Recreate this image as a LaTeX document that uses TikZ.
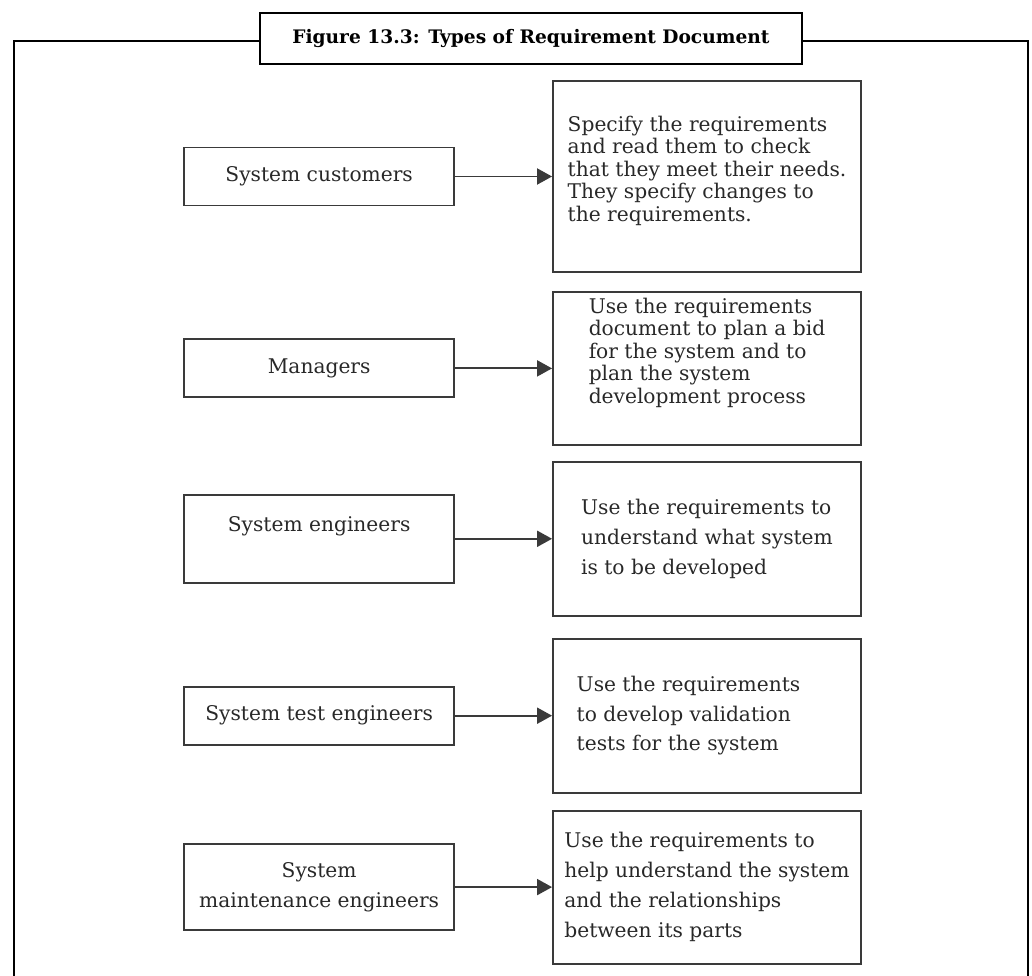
\documentclass[tikz,border=0pt]{standalone}
\usepackage{fontspec}
\setmainfont{DejaVu Serif}
\usetikzlibrary{positioning,arrows.meta}
\definecolor{boxgray}{RGB}{58,58,58}
\definecolor{textgray}{RGB}{40,40,40}

\begin{document}
\begin{tikzpicture}[
    x=0.02cm, y=-0.02cm,
    node distance=0.4cm,
    box/.style={rectangle, draw=boxgray, line width=1.1pt, text=textgray, align=center, minimum width=5.4cm, minimum height=1.16cm, font=\fontsize{11.5}{17}\selectfont},
    usage/.style={box, align=left, minimum width=6.16cm, inner sep=2pt},
    tight/.style={font=\fontsize{11.5}{12.8}\selectfont},
    link/.style={-{Triangle[length=0.3cm,width=0.32cm]}, line width=1.1pt, boxgray}
]
    \useasboundingbox (0,0) rectangle (1032,976);

    % Frame
    \draw[line width=1.3pt] (14,980) -- (14,41) -- (1028,41) -- (1028,980);
    \node[draw, line width=1.2pt, fill=white, minimum width=10.84cm, minimum height=1.02cm, font=\fontsize{10.6}{12}\selectfont\bfseries] (title) at (531,38.5) {Figure 13.3: Types of Requirement Document};

    % What each reader does
    \node[usage, tight, minimum height=3.82cm] (specify) at (707,176.5) {Specify the requirements\\ and read them to check\\ that they meet their needs.\\ They specify changes to\\ the requirements.\\[-3.7pt]\mbox{}};
    \node[usage, tight, minimum height=3.06cm, below=0.36cm of specify] (plan) {Use the requirements\\ document to plan a bid\\ for the system and to\\ plan the system\\ development process\\[7.7pt]\mbox{}};
    \node[usage, minimum height=3.08cm, below=0.30cm of plan] (understand) {Use the requirements to\\ understand what system\\ is to be developed};
    \node[usage, minimum height=3.08cm, below=0.42cm of understand] (validate) {Use the requirements\hspace*{0.74cm}\\ to develop validation\\ tests for the system};
    \node[usage, minimum height=3.06cm, below=0.32cm of validate] (maintain) {Use the requirements to\\ help understand the system\\ and the relationships\\ between its parts};

    % Readers
    \node[box, left=1.94cm of specify] (customers) {System customers};
    \node[box, left=1.94cm of plan] (managers) {Managers};
    \node[box, minimum height=1.76cm, left=1.94cm of understand] (sysengs) {System engineers\\ \mbox{}};
    \node[box, left=1.94cm of validate] (testengs) {System test engineers};
    \node[box, minimum height=1.72cm, left=1.94cm of maintain] (maintengs) {System\\ maintenance engineers};

    % Edges
    \draw[link] (customers.east) -- (customers.east -| specify.west);
    \draw[link] (managers.east) -- (managers.east -| plan.west);
    \draw[link] (sysengs.east) -- (sysengs.east -| understand.west);
    \draw[link] (testengs.east) -- (testengs.east -| validate.west);
    \draw[link] (maintengs.east) -- (maintengs.east -| maintain.west);
\end{tikzpicture}
\end{document}
